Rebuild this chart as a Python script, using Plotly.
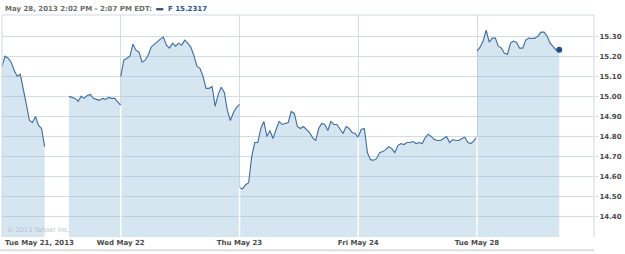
import plotly.graph_objects as go

# ---- data (10-minute samples, 09:30 .. 16:00; None = no trades shown) ----
day_labels = ["Tue May 21, 2013", "Wed May 22", "Thu May 23", "Fri May 24", "Tue May 28"]
y_ticks = [14.40, 14.50, 14.60, 14.70, 14.80, 14.90, 15.00, 15.10, 15.20, 15.30]
header_text = "May 28, 2013 2:02 PM - 2:07 PM EDT:"
symbol_text = "F 15.2317"
copyright_text = "© 2013 Yahoo! Inc."

day1 = [15.15, 15.20, 15.19, 15.17, 15.13, 15.10, 15.11, 15.04, 14.96, 14.88,
        14.87, 14.90, 14.855, 14.84, 14.75, None, None, None, None, None,
        None, None, 15.00, 14.995, 14.99, 14.975, 15.00, 14.99, 15.005, 15.01,
        14.99, 14.985, 14.98, 14.99, 14.985, 14.995, 14.99, 14.99, 14.97, 14.955]
day2 = [15.10, 15.18, 15.19, 15.20, 15.26, 15.23, 15.22, 15.17, 15.18, 15.205,
        15.245, 15.26, 15.275, 15.285, 15.295, 15.255, 15.24, 15.265, 15.25, 15.265,
        15.255, 15.28, 15.265, 15.245, 15.205, 15.15, 15.14, 15.10, 15.04, 15.04,
        15.05, 14.95, 15.01, 15.045, 15.02, 14.93, 14.88, 14.92, 14.945, 14.96]
day3 = [14.545, 14.54, 14.56, 14.57, 14.70, 14.77, 14.77, 14.84, 14.875, 14.80,
        14.83, 14.79, 14.835, 14.875, 14.86, 14.865, 14.87, 14.925, 14.915, 14.85,
        14.84, 14.85, 14.835, 14.82, 14.795, 14.78, 14.84, 14.865, 14.86, 14.83,
        14.875, 14.86, 14.86, 14.84, 14.815, 14.85, 14.84, 14.82, 14.815, 14.795]
day4 = [14.80, 14.835, 14.84, 14.72, 14.685, 14.682, 14.69, 14.72, 14.725, 14.735,
        14.75, 14.74, 14.72, 14.755, 14.765, 14.76, 14.77, 14.77, 14.775, 14.765,
        14.77, 14.765, 14.795, 14.812, 14.80, 14.785, 14.78, 14.78, 14.79, 14.80,
        14.77, 14.785, 14.78, 14.78, 14.79, 14.797, 14.77, 14.765, 14.78, 14.80]
day5 = [15.225, 15.245, 15.275, 15.33, 15.27, 15.29, 15.29, 15.25, 15.24, 15.215,
        15.21, 15.265, 15.275, 15.268, 15.24, 15.24, 15.28, 15.29, 15.288, 15.29,
        15.30, 15.32, 15.32, 15.30, 15.265, 15.25, 15.23, 15.2317]
days = [day1, day2, day3, day4, day5]
step_minutes = 10
session_minutes = 390

LINE = "#3d6d9f"
FILL = "rgba(140,185,215,0.36)"
GRID = "#d3dce6"
TXT = "#4a4a4a"

fig = go.Figure()

def segments(vals):
    seg = []
    for i, v in enumerate(vals):
        if v is None:
            if seg:
                yield seg
            seg = []
        else:
            seg.append((i, v))
    if seg:
        yield seg

boundary_tops = {}
for d, vals in enumerate(days):
    for seg in segments(vals):
        xs = [d + i * step_minutes / session_minutes for i, _ in seg]
        ys = [v for _, v in seg]
        fig.add_trace(go.Scatter(x=xs, y=ys, mode="lines", fill="tozeroy",
                                 fillcolor=FILL, line=dict(color=LINE, width=1.1),
                                 hoverinfo="skip", showlegend=False))
    first = next((v for v in vals if v is not None), None)
    last = next((v for v in reversed(vals) if v is not None), None)
    if d > 0:
        boundary_tops[d] = min(boundary_tops.get(d, first), first)
    boundary_tops[d + 1] = last

# white separators inside the filled area at each day start
for d in range(1, len(days)):
    top = boundary_tops[d]
    fig.add_shape(type="line", xref="x", yref="y", x0=d, x1=d, y0=14.3, y1=top,
                  line=dict(color="white", width=1.5), layer="above")

# end dot
last_i = len(day5) - 1
fig.add_trace(go.Scatter(x=[4 + last_i * step_minutes / session_minutes], y=[day5[-1]],
                         mode="markers", marker=dict(color="#1f4f86", size=6),
                         hoverinfo="skip", showlegend=False))

fig.update_layout(
    width=625, height=254,
    margin=dict(l=2, r=31, t=15, b=17),
    paper_bgcolor="white", plot_bgcolor="white",
    font=dict(family="DejaVu Sans", size=7, color=TXT),
    showlegend=False,
)
fig.update_xaxes(range=[0, 4.985], tickvals=[0, 1, 2, 3, 4],
                 ticktext=[""] + day_labels[1:],
                 tickfont=dict(family="DejaVu Sans", size=7, color=TXT, weight="bold"),
                 showgrid=True, gridcolor=GRID, gridwidth=1,
                 zeroline=False, showline=False, ticks="", fixedrange=True)
fig.update_yaxes(range=[14.3, 15.405], side="right", tickvals=y_ticks,
                 ticktext=[f"{v:.2f}" for v in y_ticks],
                 tickfont=dict(family="DejaVu Sans", size=7, color=TXT, weight="bold"),
                 showgrid=True, gridcolor=GRID, gridwidth=1.3,
                 ticks="outside", ticklen=3, tickcolor=GRID,
                 zeroline=False, showline=False, fixedrange=True)

# frame
for x0, y0, x1, y1 in [(0, 0, 0, 1), (1, 0, 1, 1), (0, 1, 1, 1)]:
    fig.add_shape(type="line", xref="paper", yref="paper", x0=x0, y0=y0, x1=x1, y1=y1,
                  line=dict(color="#d0d9e2", width=1), layer="above")
# bottom container line
fig.add_shape(type="line", xref="paper", yref="paper", x0=-0.01, x1=1.0, y0=-0.06, y1=-0.06,
              line=dict(color="#dcdcdc", width=2))

# first x label (left aligned)
fig.add_annotation(text=f"<b>{day_labels[0]}</b>", xref="paper", yref="paper",
                   x=0.002, y=-0.028, xanchor="left", yanchor="middle", showarrow=False,
                   font=dict(family="DejaVu Sans", size=7, color=TXT))
# header
fig.add_annotation(text=f"<b>{header_text}</b>", xref="paper", yref="paper",
                   x=0.002, y=1.028, xanchor="left", yanchor="middle", showarrow=False,
                   font=dict(family="DejaVu Sans", size=7, color="#6b6b6b"))
fig.add_shape(type="rect", xref="paper", yref="paper", x0=0.2605, x1=0.2725,
              y0=1.021, y1=1.031, fillcolor="#1f4f86", line=dict(width=0))
fig.add_annotation(text=f"<b>{symbol_text}</b>", xref="paper", yref="paper",
                   x=0.2775, y=1.028, xanchor="left", yanchor="middle", showarrow=False,
                   font=dict(family="DejaVu Sans", size=7, color="#1f5799"))
# copyright
fig.add_annotation(text=copyright_text, xref="paper", yref="paper",
                   x=0.005, y=0.03, xanchor="left", yanchor="middle", showarrow=False,
                   font=dict(family="DejaVu Sans", size=6.5, color="#b3c0cc"))

fig.write_html("out.html")
